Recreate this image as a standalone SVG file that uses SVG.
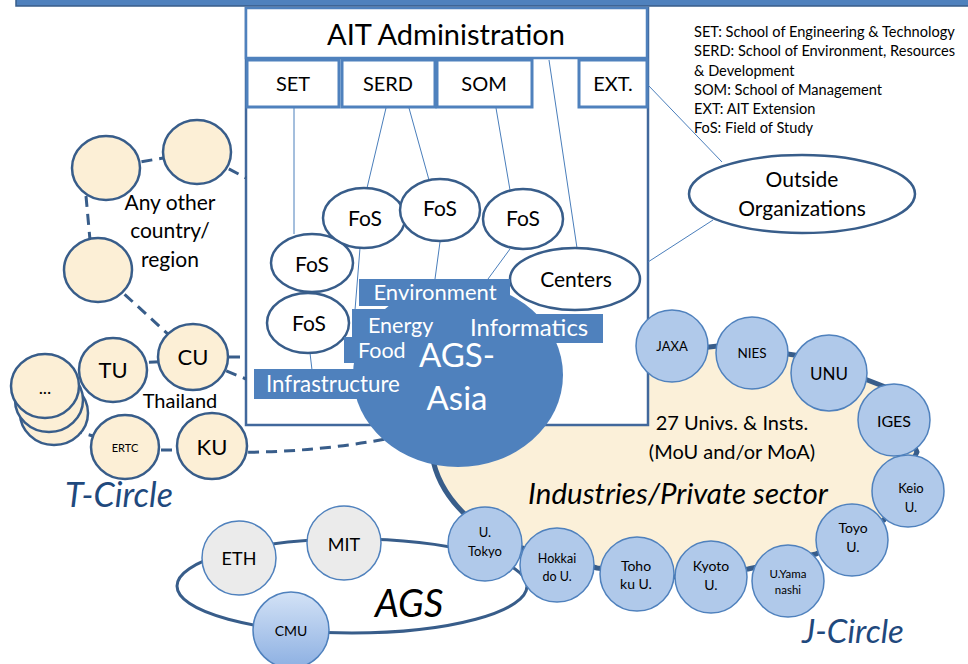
<svg xmlns="http://www.w3.org/2000/svg" width="968" height="664" viewBox="0 0 968 664">
<defs>
<linearGradient id="cmuGrad" x1="0" y1="0" x2="0" y2="1">
<stop offset="0" stop-color="#d3e2f6"/>
<stop offset="1" stop-color="#8db0e2"/>
</linearGradient>
</defs>
<style>
text{font-family:Lato,"Liberation Sans",sans-serif;fill:#000}
.mid{text-anchor:middle}
.thin{stroke:#4a7ebb;stroke-width:1;fill:none}
.dash{stroke:#385d8a;stroke-width:3;fill:none;stroke-dasharray:11 7}
.sub{fill:#fff;stroke:#4f81bd;stroke-width:3}
.fos{fill:#fff;stroke:#385d8a;stroke-width:2.5}
.cream{fill:#fcefd6;stroke:#385d8a;stroke-width:2.5}
.jc{fill:#b0c9ea;stroke:#4f81bd;stroke-width:1.5}
.gray{fill:#ebebeb;stroke:#4f81bd;stroke-width:1.5}
.lbl{fill:#4f81bd}
.wt{fill:#fff}
.circ{font-style:italic;fill:#1f497d}
</style>

<rect x="16" y="-3" width="960" height="9" fill="#4f81bd" stroke="#385d8a" stroke-width="1.5"/>

<g id="j-circle-ring">
<path d="M 727 345 L 808 357 L 888 388 L 917 452 L 884 520 L 816 554 L 748 569 L 673 577 L 597 568 L 522 548 C 490 540 440 505 432 455 L 458 375 Z" fill="#fbf0d9" stroke="#385d8a" stroke-width="5" stroke-linejoin="round"/>
</g>

<g id="ait-box">
<rect x="246" y="8" width="402" height="417" fill="#fff" stroke="#41689c" stroke-width="2.5"/>
</g>

<g id="ait-admin">
<rect x="246" y="8" width="401" height="50" fill="#fff" stroke="#4f81bd" stroke-width="2.5"/>
<text x="446" y="45" class="mid" font-size="29">AIT Administration</text>
</g>
<g id="set"><rect x="247" y="60" width="92" height="47" class="sub"/><text x="293" y="91" class="mid" font-size="20">SET</text></g>
<g id="serd"><rect x="342" y="60" width="93" height="47" class="sub"/><text x="388" y="91" class="mid" font-size="20">SERD</text></g>
<g id="som"><rect x="437" y="60" width="95" height="47" class="sub"/><text x="484" y="91" class="mid" font-size="20">SOM</text></g>
<g id="ext"><rect x="579" y="60" width="68" height="47" class="sub"/><text x="613" y="91" class="mid" font-size="20">EXT.</text></g>

<g id="connectors">
<line x1="294" y1="108" x2="294" y2="234" class="thin"/>
<line x1="386" y1="108" x2="367" y2="188" class="thin"/>
<line x1="409" y1="108" x2="429" y2="180" class="thin"/>
<line x1="496" y1="108" x2="510" y2="190" class="thin"/>
<line x1="549" y1="60" x2="577" y2="248" class="thin"/>
<line x1="648" y1="85" x2="722" y2="162" class="thin"/>
<line x1="648" y1="262" x2="713" y2="220" class="thin"/>
<line x1="510" y1="249" x2="488" y2="279" class="thin"/>
<line x1="440" y1="242" x2="435" y2="279" class="thin"/>
<line x1="360" y1="248" x2="355" y2="310" class="thin"/>
<line x1="310" y1="353" x2="312" y2="370" class="thin"/>
<line x1="106" y1="168" x2="197" y2="152" class="dash"/>
<line x1="197" y1="152" x2="246" y2="178" class="dash"/>
<line x1="86" y1="196" x2="90" y2="240" class="dash"/>
<line x1="98" y1="270" x2="193" y2="357" class="dash"/>
<line x1="113" y1="364" x2="193" y2="360" class="dash"/>
<line x1="229" y1="357" x2="246" y2="357" class="dash" stroke-dasharray="0 6 12 6"/>
<line x1="193" y1="357" x2="246" y2="379" class="dash"/>
<line x1="54" y1="425" x2="125" y2="445" class="dash"/>
<line x1="125" y1="450" x2="212" y2="450" class="dash"/>
<path d="M 212 452 Q 320 455 420 432" class="dash"/>
<ellipse cx="352" cy="586" rx="175" ry="47" fill="none" stroke="#385d8a" stroke-width="3"/>
</g>

<g id="fos-1"><ellipse cx="312" cy="263" rx="41" ry="29" class="fos"/><text x="312" y="272" class="mid" font-size="21">FoS</text></g>
<g id="fos-2"><ellipse cx="308" cy="323" rx="41" ry="30" class="fos"/><text x="309" y="331" class="mid" font-size="21">FoS</text></g>
<g id="fos-3"><ellipse cx="364" cy="218" rx="41" ry="30" class="fos"/><text x="365" y="226" class="mid" font-size="21">FoS</text></g>
<g id="fos-4"><ellipse cx="440" cy="210" rx="40" ry="31" class="fos"/><text x="440" y="216" class="mid" font-size="21">FoS</text></g>
<g id="fos-5"><ellipse cx="523" cy="219" rx="40" ry="30" class="fos"/><text x="523" y="226" class="mid" font-size="21">FoS</text></g>
<g id="centers"><ellipse cx="575" cy="279" rx="65" ry="31" class="fos"/><text x="576" y="287" class="mid" font-size="21">Centers</text></g>

<g id="outside-organizations">
<ellipse cx="802" cy="194" rx="113" ry="39" class="fos"/>
<text x="802" y="187" class="mid" font-size="21">Outside</text>
<text x="802" y="216" class="mid" font-size="21">Organizations</text>
</g>

<g id="legend" font-size="14.6">
<text x="694" y="37">SET: School of Engineering &amp; Technology</text>
<text x="694" y="56">SERD: School of Environment, Resources</text>
<text x="694" y="76">&amp; Development</text>
<text x="694" y="95">SOM: School of Management</text>
<text x="694" y="114">EXT: AIT Extension</text>
<text x="694" y="133">FoS: Field of Study</text>
</g>

<g id="ags-asia">
<ellipse cx="458" cy="375" rx="105" ry="92" fill="#4f81bd"/>
<text x="457" y="367" class="mid wt" font-size="33">AGS-</text>
<text x="457" y="410" class="mid wt" font-size="33">Asia</text>
</g>
<g id="environment"><rect x="359" y="279" width="151" height="27" class="lbl"/><text x="435" y="300" class="mid wt" font-size="22">Environment</text></g>
<g id="energy"><rect x="352" y="309" width="92" height="29" class="lbl"/><text x="368" y="333" class="wt" font-size="21.5">Energy</text></g>
<g id="food"><rect x="344" y="337" width="70" height="26" class="lbl"/><text x="358" y="358" class="wt" font-size="21.5">Food</text></g>
<g id="informatics"><rect x="462" y="314" width="141" height="29" class="lbl"/><text x="470" y="336" class="wt" font-size="24">Informatics</text></g>
<g id="infrastructure"><rect x="254" y="369" width="152" height="30" class="lbl"/><text x="266" y="392" class="wt" font-size="22.3">Infrastructure</text></g>

<g id="other-1"><ellipse cx="106" cy="168" rx="34" ry="32" class="cream"/></g>
<g id="other-2"><ellipse cx="197" cy="152" rx="34" ry="32" class="cream"/></g>
<g id="other-3"><ellipse cx="98" cy="270" rx="34" ry="32" class="cream"/></g>
<g id="any-other-label">
<text x="170" y="210" class="mid" font-size="21">Any other</text>
<text x="170" y="238" class="mid" font-size="21">country/</text>
<text x="170" y="267" class="mid" font-size="21">region</text>
</g>
<g id="cu"><ellipse cx="193" cy="357" rx="35" ry="33" class="cream"/><text x="193" y="365" class="mid" font-size="22">CU</text></g>
<g id="etc-stack">
<ellipse cx="54" cy="413" rx="34" ry="32" class="cream"/>
<ellipse cx="49" cy="400" rx="34" ry="32" class="cream"/>
<ellipse cx="45" cy="386" rx="34" ry="32" class="cream"/>
<text x="45" y="394" class="mid" font-size="18">...</text>
</g>
<g id="tu"><ellipse cx="113" cy="370" rx="34" ry="32" class="cream"/><text x="113" y="378" class="mid" font-size="22">TU</text></g>
<g id="ertc"><ellipse cx="125" cy="447" rx="34" ry="32" class="cream"/><text x="125" y="452" class="mid" font-size="11">ERTC</text></g>
<g id="ku"><ellipse cx="212" cy="446" rx="35" ry="33" class="cream"/><text x="212" y="455" class="mid" font-size="22">KU</text></g>
<text x="180" y="408" class="mid" font-size="20">Thailand</text>
<text x="65" y="507" class="circ" font-size="34">T-Circle</text>

<g id="eth"><circle cx="239" cy="558" r="37" class="gray"/><text x="239" y="565" class="mid" font-size="18">ETH</text></g>
<g id="mit"><circle cx="344" cy="543" r="37" class="gray"/><text x="344" y="551" class="mid" font-size="18">MIT</text></g>
<g id="cmu"><circle cx="291" cy="630" r="38" fill="url(#cmuGrad)" stroke="#4f81bd" stroke-width="1.5"/><text x="291" y="636" class="mid" font-size="14">CMU</text></g>
<text x="375" y="617" font-size="38" font-style="italic">AGS</text>

<g id="j-labels">
<text x="732" y="430" class="mid" font-size="20">27 Univs. &amp; Insts.</text>
<text x="732" y="459" class="mid" font-size="20">(MoU and/or MoA)</text>
<text x="678" y="504" class="mid" font-size="29.5" font-style="italic">Industries/Private sector</text>
</g>
<g id="jaxa"><circle cx="672" cy="346" r="36" class="jc"/><text x="672" y="351" class="mid" font-size="13">JAXA</text></g>
<g id="nies"><circle cx="752" cy="353" r="36" class="jc"/><text x="752" y="358" class="mid" font-size="13.5">NIES</text></g>
<g id="unu"><circle cx="829" cy="373" r="38" class="jc"/><text x="829" y="380" class="mid" font-size="17">UNU</text></g>
<g id="iges"><circle cx="894" cy="420" r="36" class="jc"/><text x="894" y="427" class="mid" font-size="16">IGES</text></g>
<g id="keio"><circle cx="908" cy="491" r="36" class="jc"/><text x="911" y="493" class="mid" font-size="13">Keio</text><text x="911" y="512" class="mid" font-size="13">U.</text></g>
<g id="toyo"><circle cx="852" cy="540" r="36" class="jc"/><text x="853" y="533" class="mid" font-size="14">Toyo</text><text x="853" y="552" class="mid" font-size="14">U.</text></g>
<g id="u-yamanashi"><circle cx="788" cy="581" r="36" class="jc"/><text x="788" y="578" class="mid" font-size="11.5">U.Yama</text><text x="788" y="594" class="mid" font-size="11.5">nashi</text></g>
<g id="kyoto"><circle cx="711" cy="577" r="36" class="jc"/><text x="711" y="571" class="mid" font-size="14">Kyoto</text><text x="711" y="590" class="mid" font-size="14">U.</text></g>
<g id="tohoku"><circle cx="637" cy="574" r="37" class="jc"/><text x="636" y="571" class="mid" font-size="14">Toho</text><text x="636" y="589" class="mid" font-size="14">ku U.</text></g>
<g id="hokkaido"><circle cx="557" cy="565" r="37" class="jc"/><text x="557" y="563" class="mid" font-size="12.5">Hokkai</text><text x="557" y="581" class="mid" font-size="12.5">do U.</text></g>
<g id="u-tokyo"><circle cx="485" cy="544" r="37" class="jc"/><text x="485" y="537" class="mid" font-size="13">U.</text><text x="485" y="556" class="mid" font-size="13">Tokyo</text></g>
<text x="802" y="643" class="circ" font-size="33">J-Circle</text>
</svg>
